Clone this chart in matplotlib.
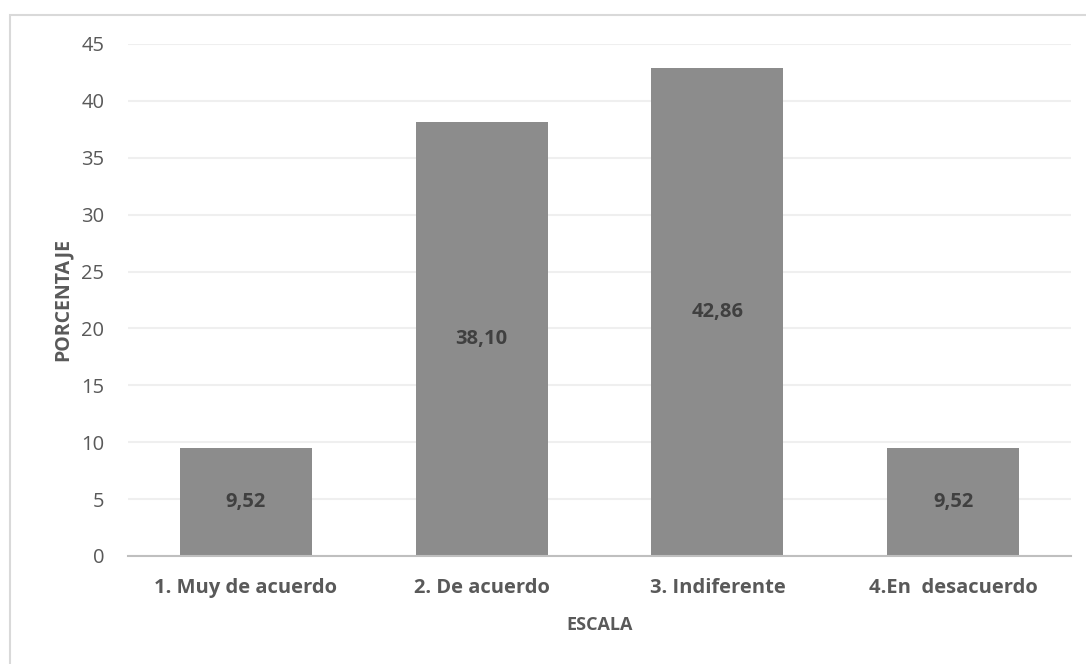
import matplotlib.pyplot as plt
from matplotlib.patches import Rectangle
import numpy as np

categorias = ["1. Muy de acuerdo", "2. De acuerdo", "3. Indiferente", "4.En  desacuerdo"]
porcentaje = [9.52, 38.10, 42.86, 9.52]
yticks = [0, 5, 10, 15, 20, 25, 30, 35, 40, 45]

plt.rcParams['font.family'] = ['Open Sans', 'DejaVu Sans']

fig = plt.figure(figsize=(10.86, 6.64), dpi=100)
ax = fig.add_axes([0.1179, 0.1627, 0.8683, 0.7711])

# marco del grafico
fig.patches.append(Rectangle((10 / 1086, -0.05), 1.2, 1 - 15 / 664 + 0.05,
                             transform=fig.transFigure, fill=False,
                             edgecolor='#d9d9d9', linewidth=1.5))

x = np.arange(len(categorias))
bars = ax.bar(x, porcentaje, width=0.56, color='#8c8c8c', zorder=2)

for b, v in zip(bars, porcentaje):
    ax.text(b.get_x() + b.get_width() / 2, v / 2, f"{v:.2f}".replace('.', ','),
            ha='center', va='center', fontsize=14.5, fontweight='bold', color='#404040')

ax.set_xlim(-0.5, len(categorias) - 0.5)
ax.set_ylim(0, 45)
ax.set_yticks(yticks)
ax.set_xticks(x)
ax.set_xticklabels(categorias, fontsize=14.5, fontweight='bold', color='#595959')
ax.tick_params(axis='y', labelsize=14.5, labelcolor='#595959', length=0, pad=17)
ax.tick_params(axis='x', length=0, pad=16)
ax.grid(axis='y', color='#efefef', linewidth=1.5, zorder=0)
ax.set_axisbelow(True)

for s in ['top', 'right', 'left']:
    ax.spines[s].set_visible(False)
ax.spines['bottom'].set_color('#bfbfbf')
ax.spines['bottom'].set_linewidth(1.5)

ax.set_xlabel("ESCALA", fontsize=13, fontweight='bold', color='#595959', labelpad=13)
ax.set_ylabel("PORCENTAJE", fontsize=14, fontweight='bold', color='#595959', labelpad=6)

fig.savefig("out.png", dpi=100)
